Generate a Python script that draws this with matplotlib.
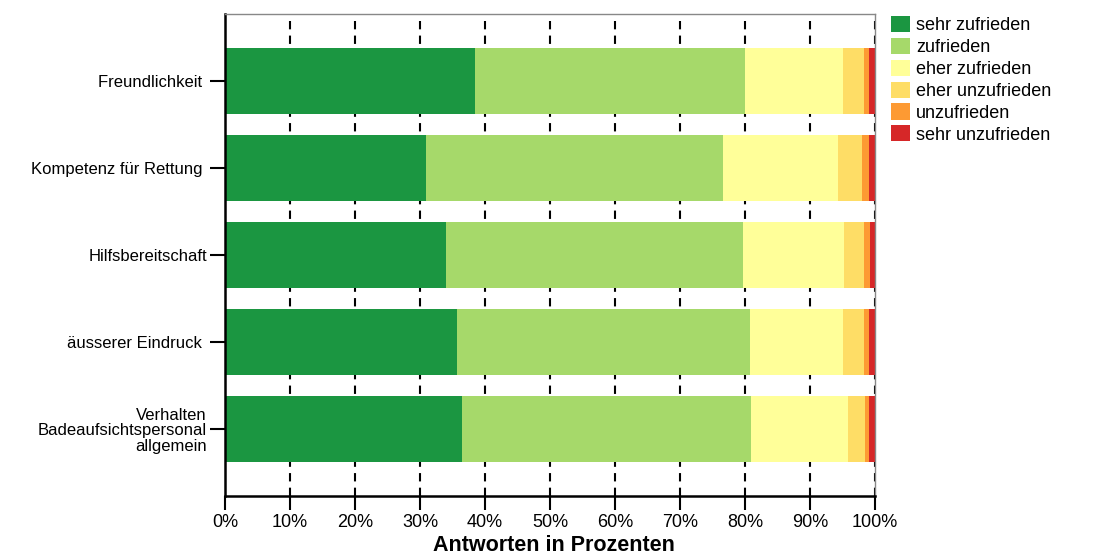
import matplotlib
matplotlib.use("Agg")
import matplotlib.pyplot as plt
import numpy as np

plt.rcParams['font.family'] = ['Liberation Sans', 'DejaVu Sans']

categories = ["Freundlichkeit ", "Kompetenz für Rettung ", "Hilfsbereitschaft",
              "äusserer Eindruck ", "Verhalten\nBadeaufsichtspersonal\nallgemein"]
series_names = ["sehr zufrieden", "zufrieden", "eher zufrieden",
                "eher unzufrieden", "unzufrieden", "sehr unzufrieden"]
sehr_zufrieden = [38.5, 30.9, 34.0, 35.7, 36.5]
zufrieden = [41.5, 45.7, 45.7, 45.1, 44.4]
eher_zufrieden = [15.1, 17.7, 15.5, 14.3, 14.9]
eher_unzufrieden = [3.2, 3.7, 3.1, 3.2, 2.7]
unzufrieden = [0.8, 1.1, 0.9, 0.8, 0.6]
sehr_unzufrieden = [0.9, 0.9, 0.8, 0.9, 0.9]
colors = ["#1b9641", "#a6d96a", "#ffff99", "#fedd66", "#fd9a33", "#d62728"]
xticks = [0, 10, 20, 30, 40, 50, 60, 70, 80, 90, 100]

series = [sehr_zufrieden, zufrieden, eher_zufrieden, eher_unzufrieden,
          unzufrieden, sehr_unzufrieden]

fig = plt.figure(figsize=(10.95, 5.55), dpi=100)
ax = fig.add_axes([0.2055, 0.1063, 0.5936, 0.8685])

y = np.arange(len(categories))
left = np.zeros(len(categories))
for name, vals, col in zip(series_names, series, colors):
    ax.barh(y, vals, left=left, height=0.76, color=col, label=name, zorder=2)
    left += np.array(vals)

ax.set_xlim(0, 100)
ax.set_ylim(4.77, -0.77)
ax.set_xticks(xticks)
ax.set_xticklabels([f"{v}%" for v in xticks], fontsize=13)
ax.set_yticks(y)
ax.set_yticklabels(categories, fontsize=12, linespacing=1.07)
for v in xticks[1:]:
    ax.axvline(v, color='black', linestyle=(0, (4, 3)), linewidth=1.5, zorder=1)

for s in ['top', 'right']:
    ax.spines[s].set_color('#888888')
    ax.spines[s].set_linewidth(1.0)
for s in ['left', 'bottom']:
    ax.spines[s].set_linewidth(1.8)
ax.tick_params(axis='both', direction='out', length=10, width=1.5)
ax.tick_params(axis='x', pad=3)
ax.tick_params(axis='y', pad=2, length=11)

fig.text(0.5055, 0.018, "Antworten in Prozenten", fontsize=15.5, fontweight='bold',
         ha='center', va='center')

leg = ax.legend(loc='upper left', bbox_to_anchor=(1.0246, 0.9959), frameon=False,
                fontsize=13, handlelength=1.05, handleheight=1.0,
                handletextpad=0.35, labelspacing=0.2, borderaxespad=0.0,
                borderpad=0.0)

fig.savefig("out.png", dpi=100)
